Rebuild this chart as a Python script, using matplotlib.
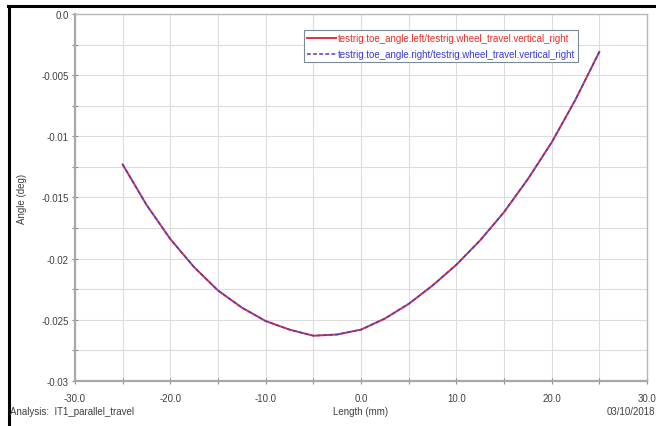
import numpy as np
import matplotlib
matplotlib.use('Agg')
from matplotlib import pyplot as plt
from matplotlib.lines import Line2D

plt.rcParams['font.family'] = ['Liberation Sans Narrow', 'Liberation Sans', 'DejaVu Sans']

# wheel travel (mm)
length = [-25.0, -22.5, -20.0, -17.5, -15.0, -12.5, -10.0, -7.5, -5.0, -2.5, 0.0,
          2.5, 5.0, 7.5, 10.0, 12.5, 15.0, 17.5, 20.0, 22.5, 25.0]
# toe angle (deg)
toe_left = [-0.0123, -0.0156, -0.0184, -0.0207, -0.0226, -0.0240, -0.0251, -0.0258,
            -0.0263, -0.0262, -0.0258, -0.0249, -0.0237, -0.0222, -0.0205, -0.0185,
            -0.0162, -0.0135, -0.0105, -0.0070, -0.0031]
toe_right = list(toe_left)

labels = ['testrig.toe_angle.left/testrig.wheel_travel.vertical_right',
          'testrig.toe_angle.right/testrig.wheel_travel.vertical_right']

x_ticks = [-30, -20, -10, 0, 10, 20, 30]
y_ticks = [0.0, -0.005, -0.01, -0.015, -0.02, -0.025, -0.03]
y_tick_labels = ['0.0', '-0.005', '-0.01', '-0.015', '-0.02', '-0.025', '-0.03']

fig = plt.figure(figsize=(6.56, 4.27), dpi=100)
ax = fig.add_axes([0.1143, 0.1054, 0.872, 0.8596])

ax.plot(length, toe_left, color='#e0303a', lw=1.4, label=labels[0],
        solid_joinstyle='round')
ax.plot(length, toe_right, color='#4a40c8', lw=1.1, ls=(0, (2.5, 1.5)), label=labels[1])

ax.set_xlim(-30, 30)
ax.set_ylim(-0.03, 0.0)
ax.set_xticks(x_ticks)
ax.set_xticklabels([f'{v:.1f}' for v in x_ticks])
ax.set_xticks(np.arange(-25, 30, 10), minor=True)
ax.set_yticks(y_ticks)
ax.set_yticklabels(y_tick_labels)
ax.set_yticks(np.arange(-0.0275, 0, 0.005), minor=True)

ax.grid(True, which='both', color='#dcdcdc', lw=0.8)
ax.set_axisbelow(True)
ax.tick_params(which='both', direction='inout', length=5, width=0.8,
               color='#909090', labelsize=7, labelcolor='#404040')
ax.tick_params(axis='x', pad=6)
ax.tick_params(axis='y', pad=2)

for side in ['left', 'bottom']:
    ax.spines[side].set_color('#a8a8a8')
    ax.spines[side].set_linewidth(1.6)
for side in ['top', 'right']:
    ax.spines[side].set_color('#b8b8b8')
    ax.spines[side].set_linewidth(1.0)

ax.set_ylabel('Angle (deg)', fontsize=7, color='#404040', labelpad=10)

leg = ax.legend(loc='upper right', bbox_to_anchor=(0.888, 0.97), fontsize=7,
                handlelength=3.0, handletextpad=0.1, borderpad=0.35,
                labelspacing=0.6, fancybox=False, framealpha=1)
leg.get_frame().set_edgecolor('#7a8a9a')
leg.get_frame().set_linewidth(0.8)
for txt, c in zip(leg.get_texts(), ['#e8302a', '#3a3adc']):
    txt.set_color(c)

fig.text(0.549, 0.035, 'Length (mm)', fontsize=7, color='#404040', ha='center', va='center')
fig.text(0.016, 0.035, 'Analysis:  IT1_parallel_travel', fontsize=7, color='#404040',
         ha='left', va='center')
fig.text(0.999, 0.035, '03/10/2018', fontsize=7, color='#404040', ha='right', va='center')

# screenshot frame on left and top
fig.add_artist(Line2D([0.013, 0.013], [0.0, 0.984], color='black', lw=2.2,
                      transform=fig.transFigure))
fig.add_artist(Line2D([0.012, 1.0], [0.984, 0.984], color='black', lw=2.2,
                      transform=fig.transFigure))

fig.savefig('out.png', dpi=100)
